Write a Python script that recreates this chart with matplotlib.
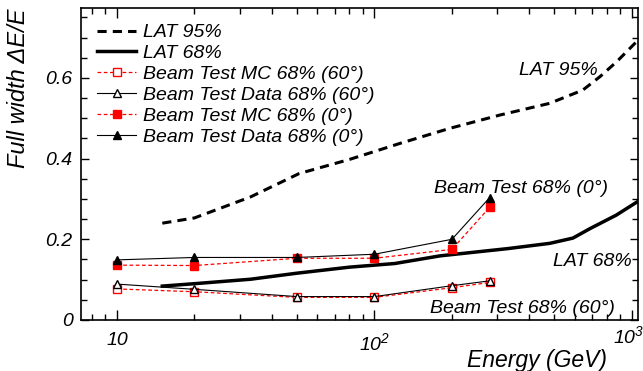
import numpy as np
import matplotlib.pyplot as plt
from matplotlib.ticker import LogLocator, FixedLocator, MultipleLocator, FuncFormatter, NullFormatter

plt.rcParams['font.family'] = 'Liberation Sans'
plt.rcParams['font.style'] = 'italic'
plt.rcParams['mathtext.fontset'] = 'custom'
plt.rcParams['mathtext.rm'] = 'Liberation Sans:italic'
plt.rcParams['mathtext.it'] = 'Liberation Sans:italic'

# LAT curves
lat95_e = [15, 20, 33, 51, 80, 126, 196, 307, 479, 645, 751, 872, 1043]
lat95_w = [0.240, 0.253, 0.305, 0.363, 0.398, 0.438, 0.475, 0.508, 0.537, 0.570, 0.603, 0.640, 0.690]
lat68_e = [15, 20, 33, 50, 80, 120, 180, 330, 480, 590, 690, 870, 1050]
lat68_w = [0.084, 0.090, 0.101, 0.116, 0.131, 0.140, 0.159, 0.177, 0.190, 0.203, 0.227, 0.260, 0.293]

# beam test points
bt_e = [10, 20, 50, 100, 200, 280]
mc60 = [0.077, 0.070, 0.056, 0.056, 0.080, 0.093]
data60 = [0.089, 0.076, 0.058, 0.058, 0.085, 0.097]
mc0 = [0.136, 0.135, 0.153, 0.153, 0.175, 0.279]
data0 = [0.149, 0.155, 0.155, 0.163, 0.200, 0.303]

xticks = [10, 100, 1000]
xticklabels = ['10', '$10^{2}$', '$10^{3}$']

fig = plt.figure(figsize=(6.43, 3.71), dpi=100)
ax = fig.add_axes([0.126, 0.1375, 0.866, 0.8405])

ax.plot(lat95_e, lat95_w, 'k--', lw=2.2, dashes=(3, 2), label='LAT 95%')
ax.plot(lat68_e, lat68_w, 'k-', lw=2.5, label='LAT 68%')
ax.plot(bt_e, mc60, ls='--', color='red', lw=0.9, dashes=(3, 2), marker='s', ms=5.5,
        mfc='white', mec='red', label='Beam Test MC 68% (60°)')
ax.plot(bt_e, data60, '-', color='black', lw=0.8, marker='^', ms=5.5,
        mfc='white', mec='black', label='Beam Test Data 68% (60°)')
ax.plot(bt_e, mc0, ls='--', color='red', lw=0.9, dashes=(3, 2), marker='s', ms=5.5,
        mfc='red', mec='red', label='Beam Test MC 68% (0°)')
ax.plot(bt_e, data0, '-', color='black', lw=0.8, marker='^', ms=5.5,
        mfc='black', mec='black', label='Beam Test Data 68% (0°)')

ax.set_xscale('log')
ax.set_xlim(7.25, 1055)
ax.set_ylim(0, 0.773)

ax.xaxis.set_major_locator(FixedLocator(xticks))
# last label (10^3) is drawn separately, raised and shifted left like the original
ax.xaxis.set_major_formatter(FuncFormatter(
    lambda v, p: dict(zip(xticks[:-1], xticklabels[:-1])).get(int(round(v)), '')))
ax.xaxis.set_minor_locator(LogLocator(base=10, subs=np.arange(2, 10), numticks=20))
ax.xaxis.set_minor_formatter(NullFormatter())
ax.yaxis.set_major_locator(MultipleLocator(0.2))
ax.yaxis.set_minor_locator(MultipleLocator(0.05))
ax.yaxis.set_major_formatter(FuncFormatter(lambda v, p: f'{v:g}'))

ax.tick_params(which='both', direction='in', top=True, right=True, width=1, labelsize=14)
ax.tick_params(axis='x', which='major', length=7, pad=9)
ax.tick_params(axis='x', which='minor', length=4)
ax.tick_params(axis='y', which='major', length=5.5, pad=6)
ax.tick_params(axis='y', which='minor', length=4)
for s in ax.spines.values():
    s.set_linewidth(1.2)

ax.text(0.983, -0.018, xticklabels[-1], transform=ax.transAxes, ha='center', va='top',
        fontsize=14, style='italic')

ax.set_xlabel('Energy (GeV)', fontsize=16.5, loc='right')
ax.xaxis.set_label_coords(0.944, -0.093)
ax.set_ylabel('Full width ΔE/E', fontsize=17, loc='top')
ax.yaxis.set_label_coords(-0.092, 1.0)

ax.text(0.928, 0.801, 'LAT 95%', transform=ax.transAxes, ha='right', va='center', fontsize=14)
ax.text(0.989, 0.188, 'LAT 68%', transform=ax.transAxes, ha='right', va='center', fontsize=14)
ax.text(0.946, 0.423, 'Beam Test 68% (0°)', transform=ax.transAxes, ha='right', va='center', fontsize=14)
ax.text(0.959, 0.036, 'Beam Test 68% (60°)', transform=ax.transAxes, ha='right', va='center', fontsize=14)

ax.legend(loc='upper left', bbox_to_anchor=(0.029, 0.95), frameon=False, fontsize=14,
          borderpad=0, borderaxespad=0, labelspacing=0.17, handlelength=2.0,
          handletextpad=0.35)

fig.savefig('out.png', dpi=100)
